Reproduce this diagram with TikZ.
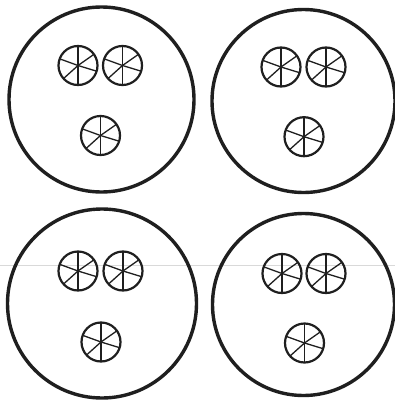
\documentclass[tikz,border=0pt]{standalone}
\begin{document}
\begin{tikzpicture}[x=1pt,y=-1pt,
  bigring/.style={line width=3.4pt,draw=black!88},
  wheelrim/.style={line width=2.2pt,draw=black!88},
  spoke/.style={line width=1.3pt,draw=black!88},
  wheel/.pic={
    \draw[wheelrim] (0,0) circle (19.5);
    \foreach \a in {90,160,222,270,343,35}
      \draw[spoke] (0,0) -- ({19*cos(\a)},{-19*sin(\a)});
  }]
\useasboundingbox[fill=white] (0,0) rectangle (395,402);
\draw[gray!30,line width=0.6pt] (0,265) -- (395,265);
% top-left
\draw[bigring] (101.5,99.5) circle (92.5);
\pic at (78,65.5) {wheel};
\pic at (122.5,65.5) {wheel};
\pic at (100.5,135.5) {wheel};
% top-right
\draw[bigring] (303.5,101) circle (91.5);
\pic at (281,67) {wheel};
\pic at (326,67) {wheel};
\pic at (304,136.7) {wheel};
% bottom-left
\draw[bigring] (102,303.5) circle (94.5);
\pic at (78,271) {wheel};
\pic at (123,271) {wheel};
\pic at (101,342) {wheel};
% bottom-right
\draw[bigring] (303.5,304.5) circle (91);
\pic at (282,273.5) {wheel};
\pic at (326,273.5) {wheel};
\pic at (304.5,343) {wheel};
\end{tikzpicture}
\end{document}
